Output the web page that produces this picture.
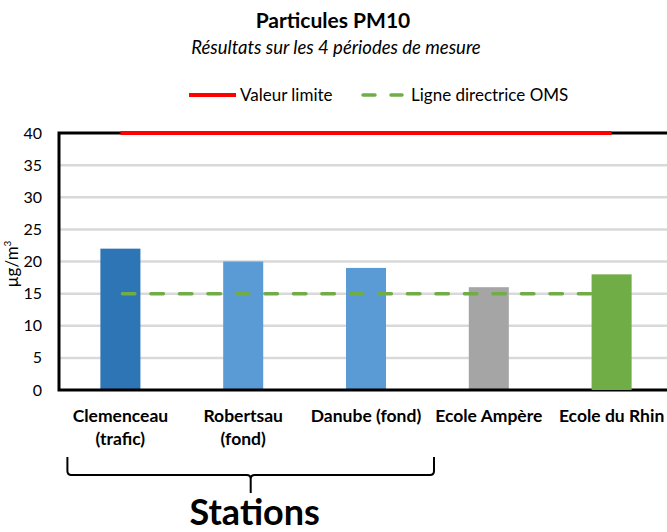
<!DOCTYPE html>
<html>
<head>
<meta charset="utf-8">
<script src="https://cdn.jsdelivr.net/npm/d3@7"></script>
<style>
  body { margin: 0; background: #fff; }
  svg { font-family: Lato, 'Open Sans', sans-serif; }
</style>
</head>
<body>
<div id="chart"></div>
<script>
const stations = ['Clemenceau (trafic)', 'Robertsau (fond)', 'Danube (fond)', 'Ecole Ampère', 'Ecole du Rhin'];
const labelLines = [['Clemenceau', '(trafic)'], ['Robertsau', '(fond)'], ['Danube (fond)'], ['Ecole Ampère'], ['Ecole du Rhin']];
const pm10 = [22, 20, 19, 16, 18];
const barColors = ['#2E75B6', '#5B9BD5', '#5B9BD5', '#A5A5A5', '#70AD47'];
const valeurLimite = 40;
const ligneOMS = 15;
const yTicks = [0, 5, 10, 15, 20, 25, 30, 35, 40];

const size = { width: 667, height: 532 };
const margin = { top: 133, right: -6, bottom: 142, left: 59 };

const svg = d3
  .select('#chart')
  .append('svg')
  .attr('width', size.width)
  .attr('height', size.height);

const x = d3
  .scaleBand()
  .domain(stations)
  .range([margin.left, size.width - margin.right])
  .paddingInner(0.674)
  .paddingOuter(0.337);

const y = d3
  .scaleLinear()
  .domain([0, 40])
  .range([size.height - margin.bottom, margin.top]);

const cx = (s) => x(s) + x.bandwidth() / 2;

// titles
svg
  .append('text')
  .attr('x', 333)
  .attr('y', 28)
  .attr('text-anchor', 'middle')
  .attr('font-weight', 'bold')
  .attr('font-size', 21)
  .text('Particules PM10');

svg
  .append('text')
  .attr('x', 336)
  .attr('y', 54)
  .attr('text-anchor', 'middle')
  .attr('font-style', 'italic')
  .attr('font-size', 18.5)
  .text('Résultats sur les 4 périodes de mesure');

// legend
const legend = svg.append('g').attr('font-size', 17);
legend
  .append('line')
  .attr('x1', 189).attr('x2', 236)
  .attr('y1', 95).attr('y2', 95)
  .attr('stroke', '#FF0000')
  .attr('stroke-width', 4);
legend.append('text').attr('x', 240).attr('y', 101).text('Valeur limite');
legend
  .append('line')
  .attr('x1', 363).attr('x2', 402)
  .attr('y1', 95).attr('y2', 95)
  .attr('stroke', '#70AD47')
  .attr('stroke-width', 3.5)
  .attr('stroke-linecap', 'round')
  .attr('stroke-dasharray', '12 16');
legend.append('text').attr('x', 411).attr('y', 101).text('Ligne directrice OMS');

// gridlines
svg
  .append('g')
  .selectAll('line')
  .data(yTicks.filter((d) => d > 0 && d < 40))
  .enter()
  .append('line')
  .attr('x1', margin.left)
  .attr('x2', size.width)
  .attr('y1', (d) => y(d))
  .attr('y2', (d) => y(d))
  .attr('stroke', '#D9D9D9')
  .attr('stroke-width', 2.5);

// bars (Ecole du Rhin drawn after the OMS line, as in the original)
const bars = stations.map((s, i) => ({ s, v: pm10[i], c: barColors[i] }));
const drawBars = (rows) =>
  svg
    .append('g')
    .selectAll('rect')
    .data(rows)
    .enter()
    .append('rect')
    .attr('x', (d) => x(d.s))
    .attr('width', x.bandwidth())
    .attr('y', (d) => y(d.v))
    .attr('height', (d) => y(0) - y(d.v))
    .attr('fill', (d) => d.c);

drawBars(bars.slice(0, 4));

// plot frame
svg
  .append('path')
  .attr('d', `M ${size.width} ${y(40)} H ${margin.left} V ${y(0)} H ${size.width}`)
  .attr('fill', 'none')
  .attr('stroke', '#000')
  .attr('stroke-width', 3);

// reference lines
svg
  .append('line')
  .attr('x1', cx(stations[0]))
  .attr('x2', cx(stations[stations.length - 1]))
  .attr('y1', y(valeurLimite))
  .attr('y2', y(valeurLimite))
  .attr('stroke', '#FF0000')
  .attr('stroke-width', 4);

svg
  .append('line')
  .attr('x1', cx(stations[0]) + 2)
  .attr('x2', cx(stations[stations.length - 1]))
  .attr('y1', y(ligneOMS))
  .attr('y2', y(ligneOMS))
  .attr('stroke', '#70AD47')
  .attr('stroke-width', 3.5)
  .attr('stroke-linecap', 'round')
  .attr('stroke-dasharray', '12.5 16');

drawBars(bars.slice(4));

// y axis labels
svg
  .append('g')
  .attr('font-size', 16)
  .selectAll('text')
  .data(yTicks)
  .enter()
  .append('text')
  .attr('x', 42)
  .attr('y', (d) => y(d) + 5.5)
  .attr('text-anchor', 'end')
  .text((d) => d);

const yTitle = svg
  .append('text')
  .attr('transform', `translate(18, 264) rotate(-90)`)
  .attr('text-anchor', 'middle')
  .attr('font-size', 17)
  .text('µg/m');
yTitle.append('tspan').attr('font-size', 10).attr('dy', -7).text('3');

// category labels
const cats = svg
  .append('g')
  .attr('font-size', 17.5)
  .attr('font-weight', 'bold')
  .attr('text-anchor', 'middle');
stations.forEach((s, i) => {
  const t = cats.append('text').attr('x', cx(s)).attr('y', 422);
  labelLines[i].forEach((line, j) => {
    t.append('tspan').attr('x', cx(s)).attr('dy', j === 0 ? 0 : 23).text(line);
  });
});

// brace under the first three stations
const bl = cx(stations[0]) - 53;
const br = cx(stations[2]) + 68;
const bm = (bl + br) / 2;
svg
  .append('path')
  .attr(
    'd',
    `M ${bl} 457 V 471 Q ${bl} 475 ${bl + 4} 475 H ${bm - 4} Q ${bm} 475 ${bm} 479 V 493 ` +
      `M ${bm} 479 Q ${bm} 475 ${bm + 4} 475 H ${br - 4} Q ${br} 475 ${br} 471 V 457`,
  )
  .attr('fill', 'none')
  .attr('stroke', '#000')
  .attr('stroke-width', 2);

svg
  .append('text')
  .attr('x', bm + 4)
  .attr('y', 525)
  .attr('text-anchor', 'middle')
  .attr('font-weight', 'bold')
  .attr('font-size', 36)
  .text('Stations');
</script>
</body>
</html>
